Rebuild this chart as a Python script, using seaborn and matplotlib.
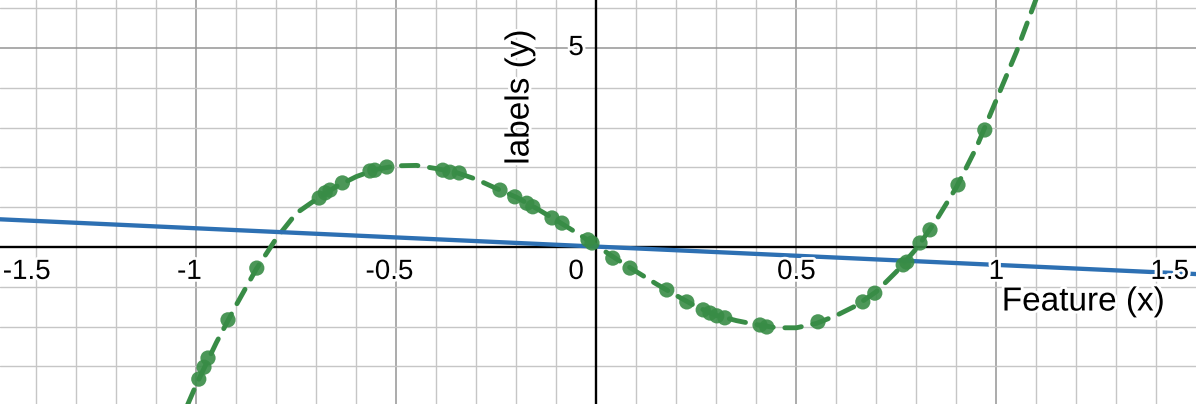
import matplotlib
matplotlib.use("Agg")
import matplotlib.pyplot as plt
import matplotlib.patheffects as pe
import seaborn as sns
import pandas as pd
import numpy as np

# ---- data ----
curve_x = [-1.03, -1.0, -0.95, -0.9, -0.85, -0.8, -0.75, -0.7, -0.65, -0.6, -0.55,
           -0.5, -0.45, -0.4, -0.35, -0.3, -0.25, -0.2, -0.15, -0.1, -0.05, 0.0,
           0.05, 0.1, 0.15, 0.2, 0.25, 0.3, 0.35, 0.4, 0.45, 0.5, 0.55, 0.6, 0.65,
           0.7, 0.75, 0.8, 0.85, 0.9, 0.95, 1.0, 1.05, 1.1, 1.115]
curve_y = [-4.15, -3.45, -2.4, -1.45, -0.55, 0.22, 0.85, 1.2, 1.52, 1.77, 1.95,
           2.04, 2.05, 1.97, 1.87, 1.7, 1.47, 1.25, 0.97, 0.67, 0.36, 0.03,
           -0.3, -0.62, -0.93, -1.22, -1.5, -1.72, -1.85, -1.95, -2.03, -2.03, -1.92, -1.72, -1.47,
           -1.12, -0.62, -0.04, 0.68, 1.5, 2.5, 3.7, 4.9, 6.25, 6.6]

points_x = [-0.994, -0.981, -0.971, -0.921, -0.849, -0.693, -0.678, -0.666, -0.635,
            -0.566, -0.554, -0.524, -0.384, -0.366, -0.343, -0.241, -0.204, -0.174,
            -0.159, -0.111, -0.086, -0.021, -0.011, 0.041, 0.084, 0.176, 0.226, 0.267,
            0.284, 0.301, 0.321, 0.409, 0.426, 0.554, 0.666, 0.696, 0.767, 0.776,
            0.809, 0.834, 0.904, 0.971]
points_y = [-3.32, -3.02, -2.79, -1.83, -0.53, 1.23, 1.36, 1.43, 1.61,
            1.91, 1.93, 2.01, 1.93, 1.88, 1.86, 1.43, 1.26, 1.10,
            1.01, 0.73, 0.60, 0.18, 0.10, -0.28, -0.53, -1.08, -1.38, -1.58,
            -1.66, -1.73, -1.78, -1.96, -2.01, -1.88, -1.38, -1.16, -0.45, -0.38,
            0.10, 0.43, 1.56, 2.94]

line_x = [-1.5, 1.5]
line_y = [0.70, -0.68]

x_tick_vals = [-1.5, -1.0, -0.5, 0.0, 0.5, 1.0, 1.5]
x_tick_labels = ["-1.5", "-1", "-0.5", "0", "0.5", "1", "1.5"]
y_tick_vals = [5]
y_tick_labels = ["5"]

x_label = "Feature (x)"
y_label = "labels (y)"

GREEN = "#388c46"
BLUE = "#2d70b3"

sns.set_style("white")
plt.rcParams["font.family"] = ["Liberation Sans", "DejaVu Sans"]
plt.rcParams["text.color"] = "black"

fig = plt.figure(figsize=(11.96, 4.04), dpi=100)
ax = fig.add_axes([0, 0, 1, 1])

xmin, xmax = -1.491, 1.499
ymin, ymax = -3.945, 6.206

curve_df = pd.DataFrame({"x": curve_x, "y": curve_y})
pts_df = pd.DataFrame({"x": points_x, "y": points_y})
line_df = pd.DataFrame({"x": line_x, "y": line_y})

sns.lineplot(data=curve_df, x="x", y="y", ax=ax, color=GREEN, linewidth=3.5,
             sort=False, estimator=None, zorder=2)
ax.lines[-1].set_dashes((3.4, 2.4))
ax.lines[-1].set_dash_capstyle("round")
sns.lineplot(data=line_df, x="x", y="y", ax=ax, color=BLUE, linewidth=3.1,
             sort=False, estimator=None, zorder=3)
sns.scatterplot(data=pts_df, x="x", y="y", ax=ax, color=GREEN, s=120,
                edgecolor="none", alpha=0.9, zorder=4)
ax.set_xlabel("")
ax.set_ylabel("")

# grid
ax.set_xticks(np.arange(-1.5, 1.51, 0.5))
ax.set_xticks(np.arange(-1.5, 1.51, 0.1), minor=True)
ax.set_yticks([-5, 0, 5])
ax.set_yticks(np.arange(-4, 7, 1), minor=True)
ax.set_xlim(xmin, xmax)
ax.set_ylim(ymin, ymax)
ax.grid(which="minor", color="#c6c6c6", linewidth=1.0, zorder=0)
ax.grid(which="major", color="#959595", linewidth=1.1, zorder=0)
ax.set_axisbelow(True)
ax.tick_params(which="both", length=0, labelbottom=False, labelleft=False)
for s in ax.spines.values():
    s.set_visible(False)

# axes lines
ax.axhline(0, color="black", linewidth=1.7, zorder=1)
ax.axvline(0, color="black", linewidth=1.7, zorder=1)

halo = [pe.withStroke(linewidth=4, foreground="white")]
tick_fs = 20
base_off = -23

for v, lab in zip(x_tick_vals, x_tick_labels):
    if v == 0:
        ax.annotate(lab, xy=(v, 0), xytext=(-9, base_off), textcoords="offset points",
                    ha="right", va="baseline", fontsize=tick_fs, color="black",
                    path_effects=halo, zorder=6)
        continue
    if v <= xmin + 0.05:
        ax.annotate(lab, xy=(xmin, 0), xytext=(2, base_off), textcoords="offset points",
                    ha="left", va="baseline", fontsize=tick_fs, color="black",
                    path_effects=halo, zorder=6)
        continue
    if v >= xmax - 0.05:
        ax.annotate(lab, xy=(xmax, 0), xytext=(-5, base_off), textcoords="offset points",
                    ha="right", va="baseline", fontsize=tick_fs, color="black",
                    path_effects=halo, zorder=6)
        continue
    dx = -5 if v < 0 else 0
    ax.annotate(lab, xy=(v, 0), xytext=(dx, base_off), textcoords="offset points",
                ha="center", va="baseline", fontsize=tick_fs, color="black",
                path_effects=halo, zorder=6)

for v, lab in zip(y_tick_vals, y_tick_labels):
    ax.annotate(lab, xy=(0, v), xytext=(-9, 0), textcoords="offset points",
                ha="right", va="center", fontsize=tick_fs, color="black",
                path_effects=halo, zorder=6)

ax.text(1165 / 1196, 1 - 302 / 404, x_label, transform=ax.transAxes, ha="right",
        va="center", fontsize=24, color="black", path_effects=halo, zorder=6)
ax.text(520 / 1196, 1 - 97 / 404, y_label, transform=ax.transAxes, ha="center",
        va="center", rotation=90, fontsize=24, color="black", path_effects=halo, zorder=6)

fig.savefig("out.png", dpi=100)
